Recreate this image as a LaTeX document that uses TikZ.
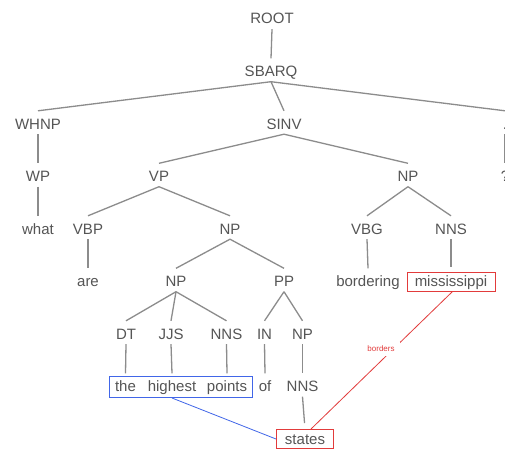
\documentclass[tikz,border=0pt]{standalone}
\usepackage{fontspec}
\setmainfont{Liberation Sans}
\usetikzlibrary{fit}
\definecolor{txt}{HTML}{555555}
\definecolor{edgegray}{HTML}{8C8C8C}
\definecolor{linkblue}{HTML}{4166E8}
\definecolor{linkred}{HTML}{E23B3B}

\begin{document}
\begin{tikzpicture}[x=1pt,y=-1pt,
  lab/.style={anchor=base,inner sep=0pt,text height=18pt,text depth=5pt,
    font=\fontsize{15}{15}\selectfont,text=txt},
  redbox/.style={draw=linkred,line width=1pt,anchor=base,inner xsep=0pt,
    inner ysep=3.5pt,text height=11pt,text depth=1pt,
    font=\fontsize{15}{15}\selectfont,text=txt},
  bluebox/.style={draw=linkblue,line width=1pt,inner xsep=5pt,inner ysep=0pt},
  edge/.style={draw=edgegray,line width=1.3pt},
  redlink/.style={draw=linkred,line width=0.8pt},
  bluelink/.style={draw=linkblue,line width=0.8pt},
  rellabel/.style={font=\fontsize{8}{8}\selectfont,text=linkred,fill=white,
    inner xsep=5pt,inner ysep=4pt}
]
\useasboundingbox (0,0) rectangle (505,452);
\clip (0,0) rectangle (505,452);
\fill[white] (0,0) rectangle (505,452);

% parse tree labels, one row per depth
\node[lab] (root)  at (272,24)    {ROOT};
\node[lab] (sbarq) at (271,76.5)  {SBARQ};
\node[lab] (whnp)  at (38,129)    {WHNP};
\node[lab] (sinv)  at (284,129)   {SINV};
\node[lab] (dot)   at (505,129)   {.};
\node[lab] (wp)    at (38,181.5)  {WP};
\node[lab] (vp)    at (159,181.5) {VP};
\node[lab] (npr)   at (408,181.5) {NP};
\node[lab] (qm)    at (505,181.5) {?};
\node[lab] (what)  at (38,234)    {what};
\node[lab] (vbp)   at (88,234)    {VBP};
\node[lab] (npo)   at (230,234)   {NP};
\node[lab] (vbg)   at (367,234)   {VBG};
\node[lab] (nnsm)  at (451,234)   {NNS};
\node[lab] (are)   at (88,286.5)  {are};
\node[lab] (npi)   at (176,286.5) {NP};
\node[lab] (pp)    at (284,286.5) {PP};
\node[lab] (bord)  at (368,286.5) {bordering};
\node[redbox,minimum width=88pt] (miss) at (451,286.5) {mississippi};
\node[lab] (dt)    at (126,339)   {DT};
\node[lab] (jjs)   at (171,339)   {JJS};
\node[lab] (nnsp)  at (226.5,339) {NNS};
\node[lab] (in)    at (264.5,339) {IN};
\node[lab] (npl)   at (302.5,339) {NP};
\node[lab] (the)   at (125.5,391.5) {the};
\node[lab] (high)  at (172,391.5) {highest};
\node[lab] (pts)   at (227,391.5) {points};
\node[lab] (of)    at (265,391.5) {of};
\node[lab] (nnss)  at (302.5,391.5) {NNS};
\node[redbox,minimum width=57pt] (states) at (305,444) {states};

% tree edges
\foreach \p/\c in {root/sbarq, sbarq/whnp, sbarq/sinv, sbarq/dot,
    whnp/wp, wp/what, dot/qm, sinv/vp, sinv/npr,
    vp/vbp, vp/npo, vbp/are, npr/vbg, npr/nnsm, vbg/bord,
    npo/npi, npo/pp, npi/dt, npi/jjs, npi/nnsp, pp/in, pp/npl,
    dt/the, jjs/high, nnsp/pts, in/of, npl/nnss}
  \draw[edge] (\p.south) -- (\c.north);
\draw[edge,shorten >=5pt] (nnsm.south) -- (miss.north);
\draw[edge,shorten >=6pt] (nnss.south) -- (states.north);

% highlighted phrase and its links
\coordinate (phrasetl) at ([yshift=15pt]the.base west);
\coordinate (phrasebr) at ([yshift=-6pt]pts.base east);
\node[bluebox,fit=(phrasetl)(phrasebr)] (phrase) {};
\draw[bluelink] (high |- phrase.south) -- (states.west);
\draw[redlink] ([xshift=1.5pt]miss.south) -- ([xshift=6pt]states.north);
\node[rellabel] (rel) at (381,349) {borders};
\end{tikzpicture}
\end{document}
